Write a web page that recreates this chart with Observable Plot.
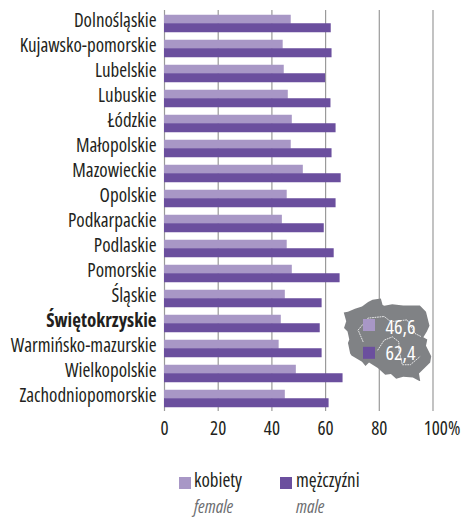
<!DOCTYPE html>
<html><head><meta charset="utf-8">
<script src="https://cdn.jsdelivr.net/npm/d3@7"></script>
<script src="https://cdn.jsdelivr.net/npm/@observablehq/plot@0.6"></script>
<style>
html,body{margin:0;padding:0;background:#fff}
#wrap{position:relative;width:462px;height:518px;overflow:hidden;font-family:"Open Sans",sans-serif;font-stretch:condensed;color:#231f20}
#wrap svg{background:transparent;display:block}
#wrap text{font-stretch:condensed}
#map{position:absolute;left:342px;top:298px}
.sw{position:absolute;width:12px;height:12px;top:477px}
.t{position:absolute;font-size:19px;line-height:18px;white-space:nowrap}
.i{font-size:18px;font-style:italic;color:#6d6e71}
</style></head><body><div id="wrap"><div id="chart"></div><div id="map"></div>
<div class="sw" style="left:179px;background:#a897c6"></div><div class="t" style="left:194px;top:471px">kobiety</div><div class="t i" style="left:194px;top:496.5px">female</div>
<div class="sw" style="left:280px;background:#6b4f9e"></div><div class="t" style="left:296px;top:471px">mężczyźni</div><div class="t i" style="left:296px;top:496.5px">male</div>
</div>
<script>
const regions = ["Dolnośląskie","Kujawsko-pomorskie","Lubelskie","Lubuskie","Łódzkie","Małopolskie","Mazowieckie","Opolskie","Podkarpackie","Podlaskie","Pomorskie","Śląskie","Świętokrzyskie","Warmińsko-mazurskie","Wielkopolskie","Zachodniopomorskie"];
const female = [47.2,44.2,44.6,46.1,47.6,47.2,51.7,45.7,43.9,45.7,47.6,45.0,43.5,42.7,49.1,45.0];
const male = [62.1,62.4,60.0,62.0,63.9,62.4,65.8,63.9,59.5,63.2,65.4,58.7,58.0,58.7,66.5,61.3];
const highlight = "Świętokrzyskie";
const ticks = [0,20,40,60,80];
const femaleColor = "#a897c6", maleColor = "#6b4f9e";
const rows = regions.map((r,i)=>({region:r,female:female[i],male:male[i]}));

const font = '"Open Sans",sans-serif';
const chart = Plot.plot({
  width:462,height:450,marginLeft:164,marginRight:29.5,marginTop:10,marginBottom:39,
  style:{fontFamily:font,fontSize:"19px",color:"#231f20",background:"transparent"},
  x:{domain:[0,100]},
  y:{domain:regions,paddingInner:0.66,paddingOuter:0.33,align:0.5},
  marks:[
    Plot.gridX([...ticks,100],{stroke:"#9a9a9a",strokeOpacity:1,strokeWidth:1.2}),
    Plot.barX(rows,{y:"region",x:"female",fill:femaleColor,dy:-4.25}),
    Plot.barX(rows,{y:"region",x:"male",fill:maleColor,dy:4.25}),
    Plot.axisY(regions.filter(r=>r!==highlight),{label:null,tickSize:0,tickPadding:8,dy:-3,fill:"#231f20"}),
    Plot.axisY([highlight],{label:null,tickSize:0,tickPadding:8,dy:-3,fontWeight:"bold",fill:"#231f20"}),
    Plot.axisX(ticks,{label:null,tickSize:0,tickPadding:10,fill:"#231f20"}),
    Plot.axisX([100],{label:null,tickSize:0,tickPadding:10,dx:9,tickFormat:d=>d+"%",fill:"#231f20"})
  ]
});
document.getElementById("chart").append(chart);

// Outline of Poland (lon, lat)
const outlineLon = [14.12,14.6,15.4,16.2,16.9,17.4,18.35,18.55,18.75,19.65,20.9,22.8,23.5,23.9,23.6,23.2,23.65,23.5,24.1,23.98,22.7,22.85,22.0,20.9,20.1,19.5,18.85,18.0,17.0,16.6,16.2,15.0,14.85,14.6,14.75,14.55,14.15,14.4,14.12];
const outlineLat = [53.9,53.95,54.15,54.3,54.6,54.75,54.83,54.4,54.35,54.45,54.36,54.36,53.95,53.0,52.6,52.2,52.05,51.6,50.85,50.4,49.6,49.0,49.3,49.35,49.2,49.55,49.5,50.0,50.4,50.15,50.45,50.9,51.05,51.8,52.05,52.6,52.85,53.3,53.9];
const outline = {type:"Polygon",coordinates:[outlineLon.map((x,i)=>[x,outlineLat[i]])]};
const borderLon = [16.32,15.76,16.88,18.73,19.48,21.35,22.27,23.0];
const borderLat = [51.9,52.7,53.52,53.63,53.28,53.4,52.46,52.23];
const border2Lon = [18.0,18.73,19.67,20.41,20.41,20.8,21.72,22.8];
const border2Lat = [51.3,52.0,52.23,51.88,51.3,50.24,50.24,50.82];
const border = {type:"MultiLineString",coordinates:[borderLon.map((x,i)=>[x,borderLat[i]]),border2Lon.map((x,i)=>[x,border2Lat[i]])]};
const mapValues = [{lon:17.0,lat:53.05,lx:20.6,ly:52.85,fill:femaleColor,label:"46,6"},{lon:17.0,lat:51.1,lx:20.6,ly:51.05,fill:maleColor,label:"62,4"}];

document.getElementById("map").append(Plot.plot({
  width:90,height:83,margin:0,
  style:{fontFamily:font,background:"transparent"},
  projection:{type:"mercator",domain:outline},
  marks:[
    Plot.geo(outline,{fill:"#808285",stroke:"none"}),
    Plot.geo(border,{stroke:"#fff",strokeWidth:0.8,strokeDasharray:"1 1.5",fill:"none"}),
    Plot.dot(mapValues,{x:"lon",y:"lat",symbol:"square",r:6.77,fill:"fill",stroke:"none"}),
    Plot.text(mapValues,{x:"lx",y:"ly",text:"label",fill:"#fff",fontSize:20})
  ]
}));
</script></body></html>
